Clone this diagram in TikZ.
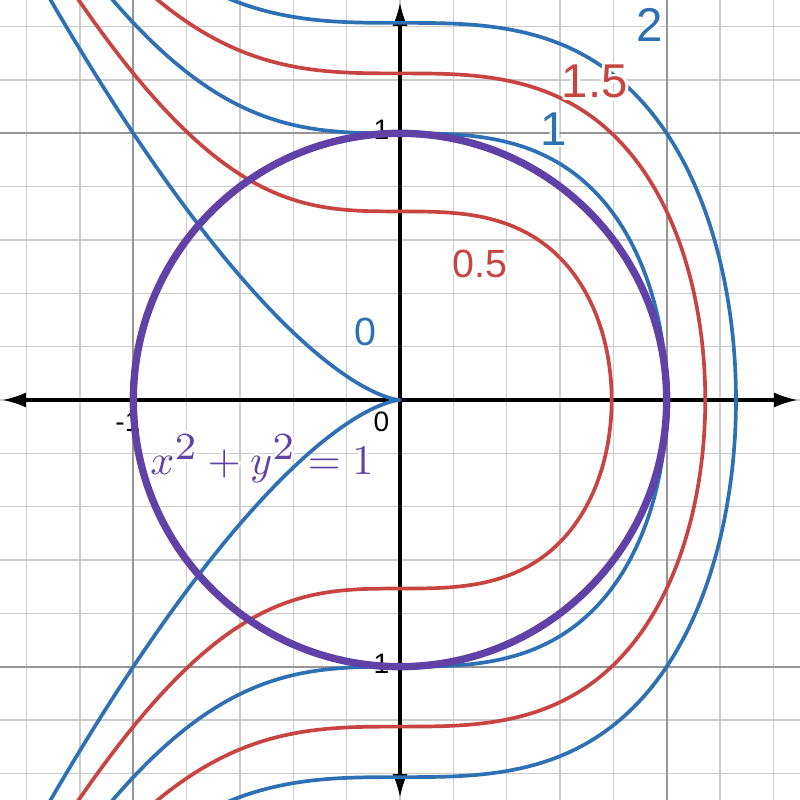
\documentclass[tikz,border=0pt]{standalone}
\usepackage[no-math]{fontspec}
\usepackage{graphicx}
\setmainfont{Liberation Sans}
\usetikzlibrary{arrows.meta}
\definecolor{dblue}{HTML}{2D70B3}
\definecolor{dred}{HTML}{C74440}
\definecolor{dpurple}{HTML}{6042A6}
\definecolor{gminor}{RGB}{204,204,204}
\definecolor{gmajor}{RGB}{150,150,150}
\tikzset{
  minorgrid/.style={gminor, line width=0.42pt},
  majorgrid/.style={gmajor, line width=0.6pt},
  axisline/.style={black, line width=0.95pt, {Latex[length=0.24cm,width=0.15cm]}-{Latex[length=0.24cm,width=0.15cm]}},
  curve/.style={line width=1.05pt, line join=round, line cap=round},
  ticklbl/.style={inner sep=0pt, font=\fontsize{8}{9}\selectfont, text=black},
  biglbl/.style={inner sep=0pt, anchor=base, font=\fontsize{13.5}{16}\selectfont},
  smalllbl/.style={inner sep=0pt, anchor=base, font=\fontsize{11.2}{13}\selectfont},
}
\newcommand{\halolabel}[4]{%
  \foreach \t in {0,30,...,330}
    \node[#3, text=white, xshift={0.8pt*cos(\t)}, yshift={0.8pt*sin(\t)}] at (#2) {#4};
  \node[#3] (#1) at (#2) {#4};
}
\newcommand{\bigsq}{\scalebox{1.3}{$\scriptstyle 2$}}
\begin{document}
\begin{tikzpicture}[x=2.666667cm, y=2.666667cm]
\useasboundingbox (-1.5,-1.5) rectangle (1.5,1.5);
\fill[white] (-1.5,-1.5) rectangle (1.5,1.5);
\begin{scope}
\clip (-1.5,-1.5) rectangle (1.5,1.5);
% grid
\foreach \i in {-7,...,7} {
  \draw[minorgrid] (\i*0.2,-1.5) -- (\i*0.2,1.5);
  \draw[minorgrid] (-1.5,\i*0.2) -- (1.5,\i*0.2);
}
\foreach \g in {-1,1} {
  \draw[majorgrid] (\g,-1.5) -- (\g,1.5);
  \draw[majorgrid] (-1.5,\g) -- (1.5,\g);
}
% axes
\coordinate (xl) at (-1.4925,0);
\coordinate (xr) at (1.4925,0);
\coordinate (yb) at (0,-1.4925);
\coordinate (yt) at (0,1.4925);
\draw[axisline] (xl) -- (xr);
\draw[axisline] (yb) -- (yt);
% tick labels
\node[ticklbl, anchor=base east] (t0) at (-0.0375,-0.12) {0};
\node[ticklbl, anchor=base east] (t1) at (-0.0375,0.975) {1};
\node[ticklbl, anchor=base east] (tm1) at (-0.0375,-1.024) {-1};
\node[ticklbl, anchor=base] (xm1) at (-1.02,-0.12) {-1};
% level curves x^3 + y^2 = c
\foreach \a/\col in {0/dblue, 0.793701/dred, 1/dblue, 1.144714/dred, 1.259921/dblue}
  \draw[curve, \col, domain=-1.55:1.55, samples=261, variable=\w]
    plot ({\a-\w*\w},{\w*sqrt(3*\a*\a-3*\a*\w*\w+\w*\w*\w*\w)});
% circle
\draw[dpurple, line width=2.1pt] (0,0) circle[radius=1];
\end{scope}
% curve labels
\halolabel{l2}{0.9375,1.3425}{biglbl, text=dblue}{2}
\halolabel{l15}{0.731,1.1325}{biglbl, text=dred}{1.5}
\halolabel{l1}{0.578,0.956}{biglbl, text=dblue}{1}
\halolabel{l05}{0.3,0.461}{smalllbl, text=dred}{0.5}
\halolabel{l0}{-0.131,0.206}{smalllbl, text=dblue}{0}
\halolabel{eq}{-0.5175,-0.281}{inner sep=0pt, anchor=base, text=dpurple}{\scalebox{1.2}{$x^{\bigsq}+y^{\bigsq}=1$}}
\end{tikzpicture}
\end{document}
